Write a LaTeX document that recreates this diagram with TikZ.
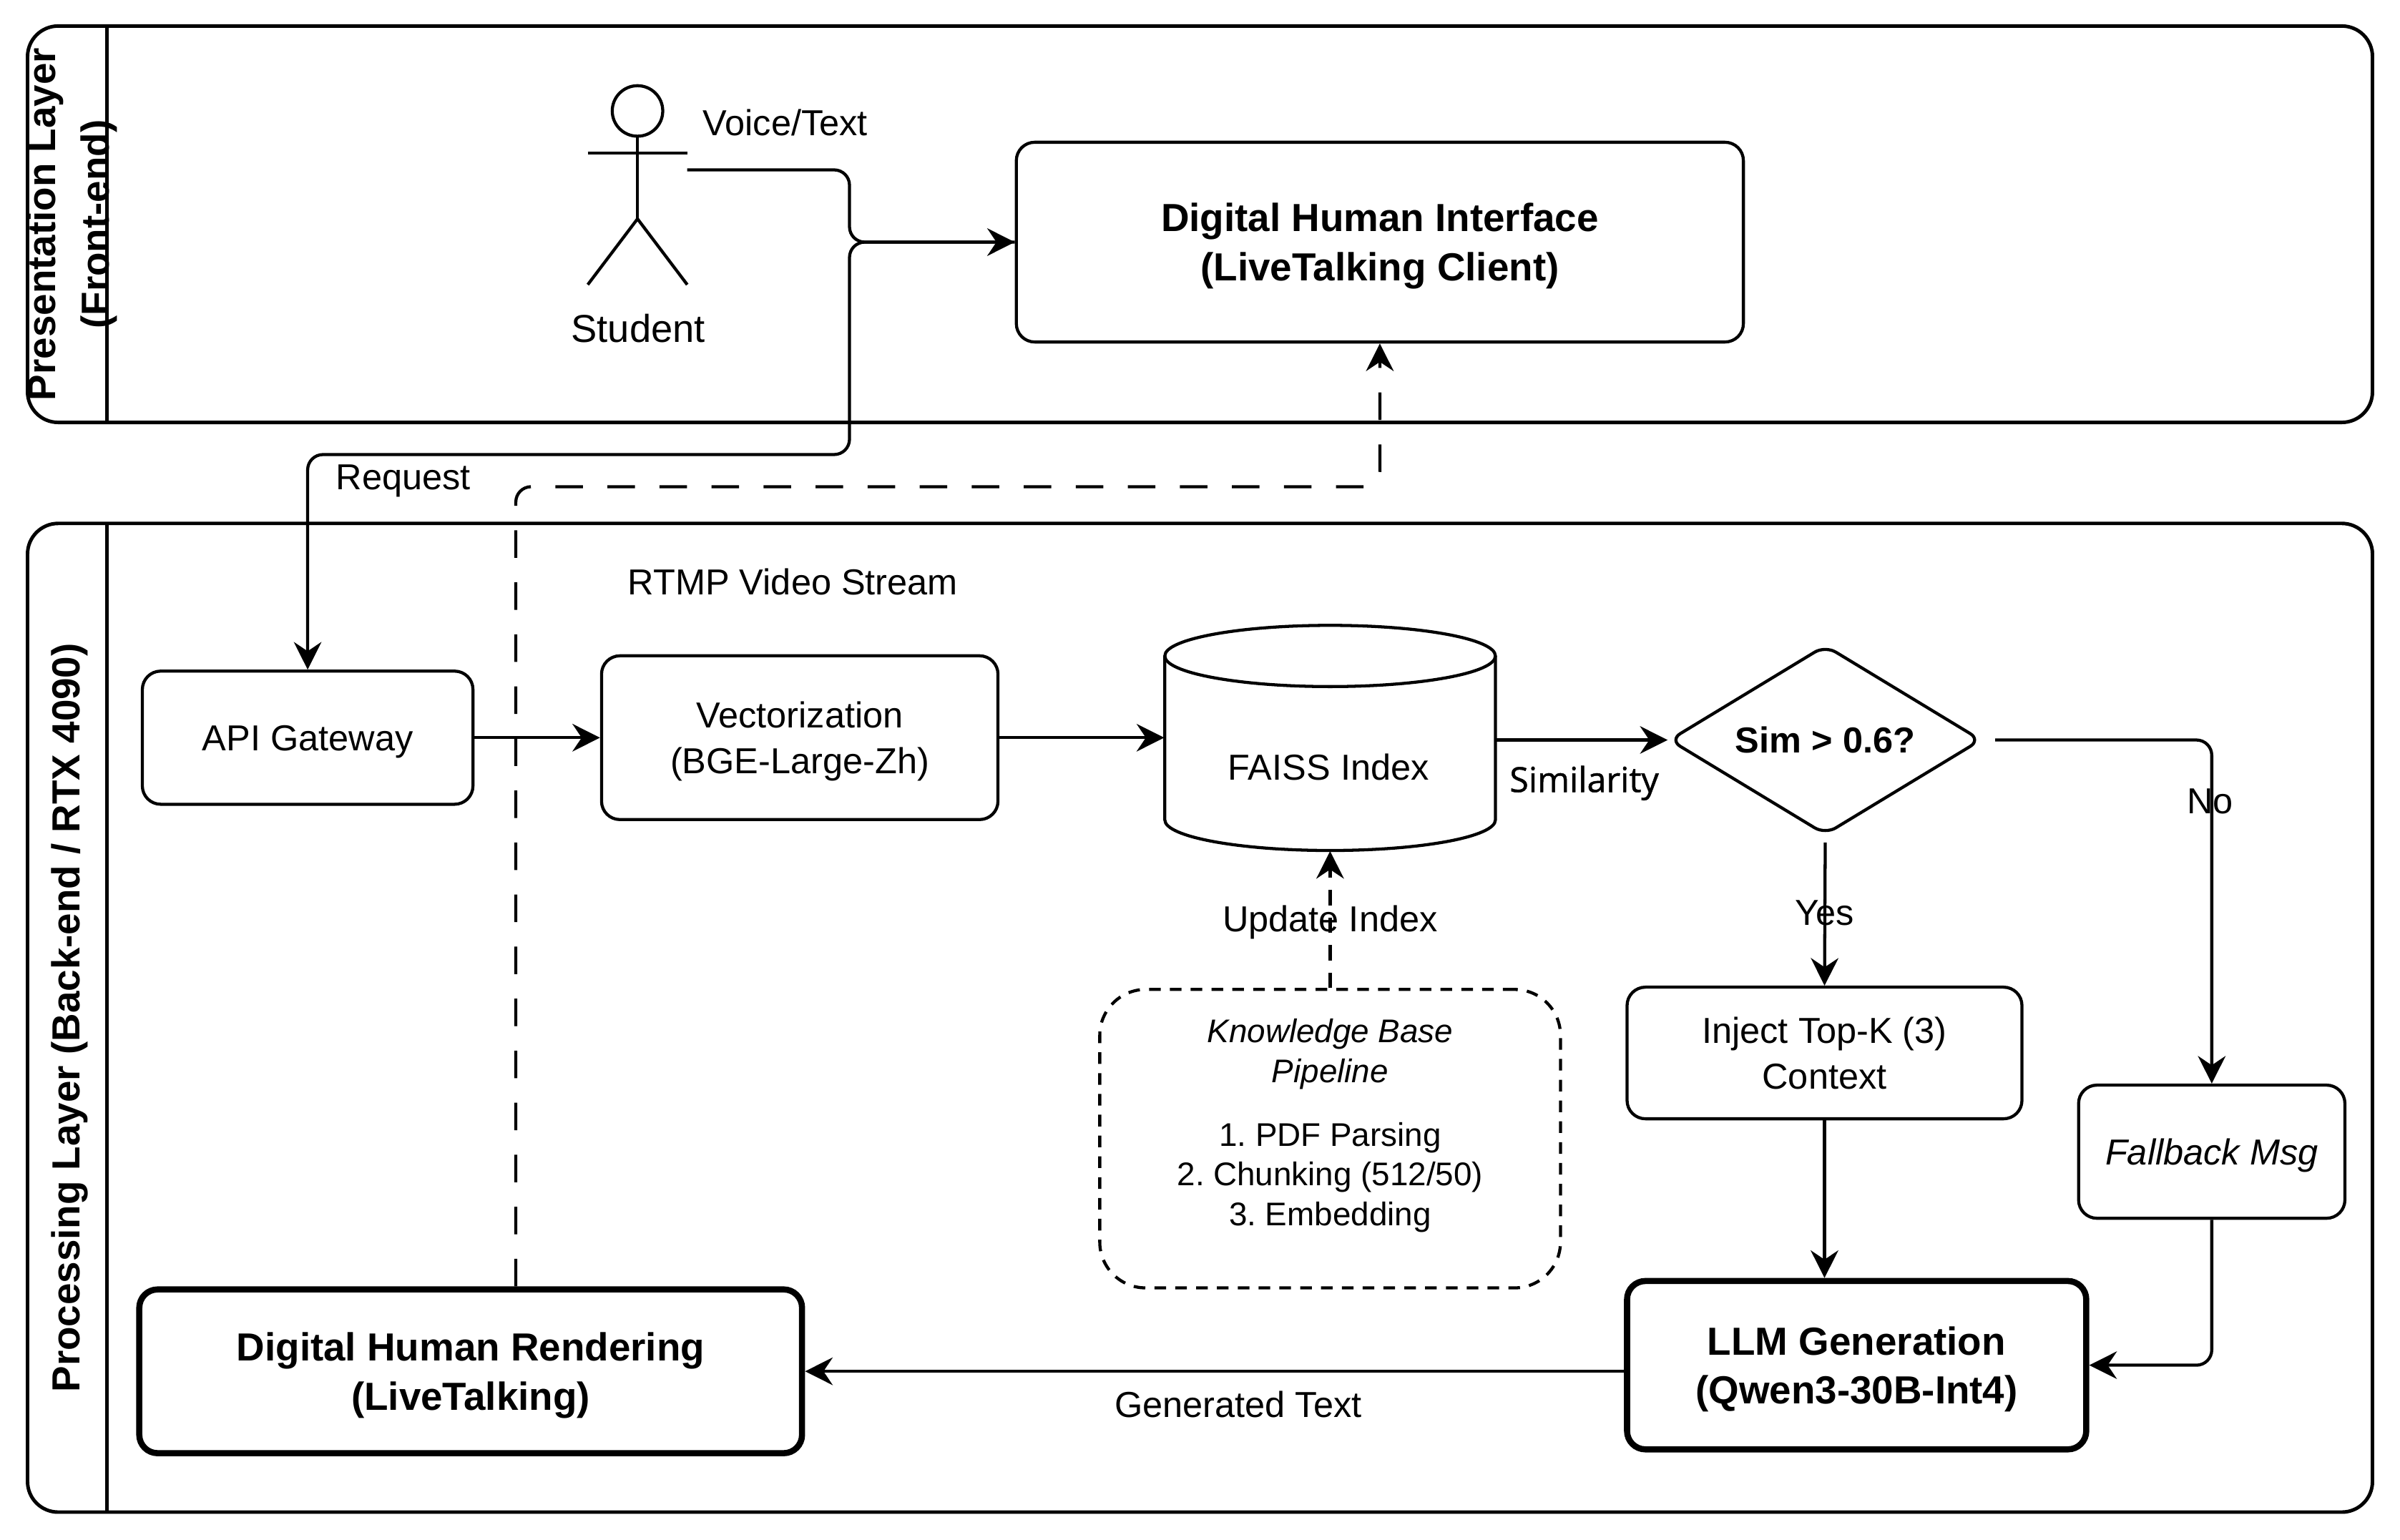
\documentclass[tikz,border=0pt]{standalone}
\usepackage{fontspec}
\setmainfont{Liberation Sans}
\newfontfamily\simfont[FakeBold=1]{Open Sans}
\usetikzlibrary{arrows.meta,shapes.geometric}
\frenchspacing
\newcommand\szN{\fontsize{11.8pt}{15pt}\selectfont}
\newcommand\szB{\fontsize{12.8pt}{16pt}\selectfont\bfseries}
\newcommand\szK{\fontsize{10.7pt}{13pt}\selectfont}
\newcommand\szS{\fontsize{12.7pt}{15pt}\selectfont}
\tikzset{
  lane/.style={line width=1.15pt, rounded corners=10pt},
  lanediv/.style={line width=1.15pt},
  box/.style={draw, line width=1pt, rounded corners=6pt, align=center, inner sep=0pt, font=\szN},
  one/.style={text height=8.45pt, text depth=0pt},
  two/.style={text height=23.45pt, text depth=0pt},
  thickbox/.style={box, line width=2pt, font=\szB, text height=25.2pt, text depth=0pt},
  kbbox/.style={draw, line width=1pt, rounded corners=15pt, dash pattern=on 3.8pt off 3pt, inner sep=0pt},
  tip/.style={-{Stealth[length=9pt,width=9pt,inset=3pt]}},
  conn/.style={draw, line width=1pt, rounded corners=5pt, tip},
  dconn/.style={conn, dash pattern=on 9pt off 8pt},
  dconnb/.style={conn, dash pattern=on 5pt off 4pt},
  lbl/.style={inner sep=0pt, text height=8.5pt, text depth=0pt, font=\szN},
  actor/.style={line width=1pt}
}
\begin{document}
\begin{tikzpicture}[x=0.5pt, y=-0.5pt]
\useasboundingbox (0,0) rectangle (1568,1006);

% swimlanes
\draw[lane] (18,17) rectangle (1550,276);
\draw[lanediv] (70,17) -- (70,276);
\node[rotate=90, align=center, inner sep=0pt, font=\fontsize{12.8pt}{17.5pt}\selectfont\bfseries, text height=26.7pt, text depth=0pt] (plane) at (44.5,146.5) {Presentation Layer\\(Front-end)};

\draw[lane] (18,342) rectangle (1550,988);
\draw[lanediv] (70,342) -- (70,988);
\node[rotate=90, inner sep=0pt, font=\szB, text height=9.2pt, text depth=0pt] (blane) at (43,665) {Processing Layer (Back-end / RTX 4090)};

% student actor
\draw[actor] (416.5,72.5) circle[radius=8.25pt];
\draw[actor] (416.5,89) -- (416.5,143);
\draw[actor] (384,100) -- (449,100);
\draw[actor] (384,186) -- (416.5,143) -- (449,186);
\coordinate (stu) at (449,111);
\node[lbl, font=\szS, text height=9.1pt] (lstudent) at (417,214.5) {Student};
\node[lbl] (lvoice) at (513,80) {Voice/Text};

% nodes
\node[thickbox, line width=1pt, minimum width=237.5pt, minimum height=65.25pt] (dhi) at (901.5,158.2) {Digital Human Interface\\(LiveTalking Client)};
\node[box, one, minimum width=108pt, minimum height=43.5pt] (api) at (201,482) {API Gateway};
\node[box, two, minimum width=129.5pt, minimum height=53.5pt] (vec) at (522.5,482) {Vectorization\\(BGE-Large-Zh)};

% FAISS cylinder
\node[inner sep=0pt, minimum width=108pt, minimum height=73.5pt] (faiss) at (869,482.2) {};
\draw[line width=1pt] (761,428.6) -- (761,535.7) arc[start angle=180, end angle=360, x radius=54pt, y radius=10pt] -- (977,428.6);
\draw[line width=1pt] (869,428.6) ellipse[x radius=54pt, y radius=10pt];
\node[lbl] (lfaiss) at (868,501) {FAISS Index};

\node[diamond, draw, line width=1pt, aspect=1.678, minimum width=102pt, minimum height=62pt, inner sep=0pt, rounded corners=4pt, font=\szN\bfseries, one] (sim) at (1192.5,483.5) {Sim > 0.6?};

\node[box, two, minimum width=129pt, minimum height=43pt] (inject) at (1192,688) {Inject Top-K (3)\\Context};
\node[box, one, minimum width=87pt, minimum height=43.5pt, font=\szN\itshape] (fallback) at (1445,752.5) {Fallback Msg};
\node[thickbox, minimum width=150pt, minimum height=55pt] (llm) at (1213,892) {LLM Generation\\(Qwen3-30B-Int4)};
\node[thickbox, minimum width=216.5pt, minimum height=53.5pt] (dhr) at (307.5,896) {Digital Human Rendering\\(LiveTalking)};

\node[kbbox, minimum width=150.5pt, minimum height=97.5pt] (kb) at (869,744) {};
\node[align=center, inner sep=0pt, font=\szK] (kbtxt) at (869,735.5) {\textit{Knowledge Base}\\\textit{Pipeline}\\[7.8pt]1. PDF Parsing\\2. Chunking (512/50)\\3. Embedding};

% connectors
\draw[conn] (stu) -- (555,111) -- (555,158.2) -- (dhi.west);
\draw[conn] (dhi.west) -- (555,158.2) -- (555,297) -- (201,297) -- (api.north);
\node[lbl] (lreq) at (263.5,311.5) {Request};

\coordinate (rt) at (337,318);
\draw[dconn] (dhr.north -| rt) -- (rt) -- (rt -| dhi.south) -- (dhi.south);
\node[lbl] (lrtmp) at (518,380) {RTMP Video Stream};

\draw[conn] (api.east) -- (vec.west);
\draw[conn] (vec.east) -- (vec.east -| faiss.west);
\draw[conn] (faiss.east |- sim.west) -- (sim.west);
\node[lbl, font=\simfont\fontsize{11.3pt}{13pt}\selectfont] (lsim) at (1035,509) {Similarity};

\draw[conn, shorten <=2pt] (sim.south) -- (inject.north);
\node[lbl] (lyes) at (1192,596) {Yes};
\draw[conn, shorten <=4pt] (sim.east) -- (fallback.north |- sim.east) -- (fallback.north);
\node[lbl] (lno) at (1444,523) {No};

\draw[conn] (inject.south) -- (inject.south |- llm.north);
\draw[conn] (fallback.south) -- (fallback.south |- llm.east) -- (llm.east);
\draw[conn] (llm.west |- dhr.east) -- (dhr.east);
\node[lbl] (lgen) at (809,917.5) {Generated Text};

\draw[dconnb] (kb.north) -- (faiss.south);
\node[lbl] (lupd) at (869,600) {Update Index};
\end{tikzpicture}
\end{document}
